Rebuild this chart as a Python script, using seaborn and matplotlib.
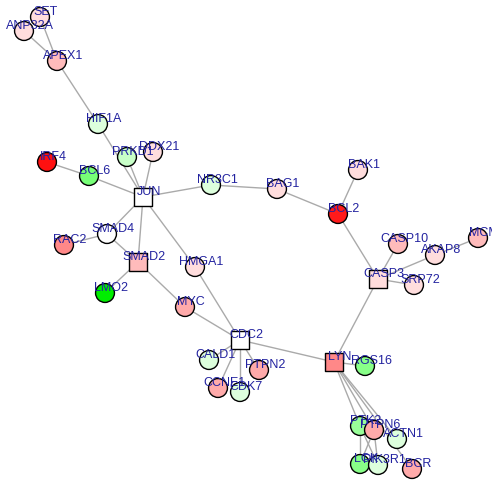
import matplotlib
matplotlib.use("Agg")
import matplotlib.pyplot as plt
import seaborn as sns
import pandas as pd

# node table (pixel layout, y grows downward)
names = ["SET", "ANP32A", "APEX1", "HIF1A", "PRKD1", "DDX21", "IRF4", "BCL6", "JUN",
         "NR3C1", "BAG1", "BCL2", "BAK1", "SMAD4", "RAC2", "SMAD2", "HMGA1", "LMO2",
         "MYC", "CDC2", "CALD1", "PTPN2", "CCNE1", "CDK7", "LYN", "RGS16", "CASP3",
         "CASP10", "AKAP8", "MCM", "SRP72", "PTK2", "PTPN6", "ACTN1", "LCK", "PIK3R1", "BCR"]
xs = [40, 24, 57, 98, 127, 153, 47, 89, 143,
      211, 277, 338, 358, 107, 64, 138, 195, 105,
      185, 240, 209, 259, 218, 240, 334, 365, 378,
      398, 435, 478, 414, 360, 374, 397, 360, 378, 412]
ys = [18, 32, 62, 125, 158, 153, 163, 177, 198,
      186, 190, 215, 171, 235, 246, 263, 268, 294,
      308, 341, 361, 371, 389, 393, 363, 367, 280,
      245, 256, 239, 286, 427, 431, 440, 465, 466, 470]
shapes = ["circle"] * 8 + ["square"] + ["circle"] * 6 + ["square"] + ["circle"] * 3 + \
         ["square"] + ["circle"] * 4 + ["square", "circle", "square"] + ["circle"] * 10
colors = ["#ffdddd", "#ffdddd", "#ffbbbb", "#ddffdd", "#c8ffc8", "#ffdddd", "#ff1010", "#77ff77", "#ffffff",
          "#ddffdd", "#ffdddd", "#ff1a1a", "#ffdddd", "#ffffff", "#ff8888", "#ffbbbb", "#ffdddd", "#00ee00",
          "#ffaaaa", "#ffffff", "#ddffdd", "#ffaaaa", "#ffaaaa", "#ddffdd", "#ff8888", "#88ff88", "#ffdddd",
          "#ffbbbb", "#ffdddd", "#ffbbbb", "#ffdddd", "#99ff99", "#ffaaaa", "#ddffdd", "#88ff88", "#ddffdd", "#ffaaaa"]

edges = [("SET", "APEX1"), ("ANP32A", "APEX1"), ("APEX1", "HIF1A"), ("HIF1A", "JUN"),
         ("PRKD1", "JUN"), ("DDX21", "JUN"), ("IRF4", "BCL6"), ("BCL6", "JUN"),
         ("JUN", "NR3C1"), ("NR3C1", "BAG1"), ("BAG1", "BCL2"), ("BAK1", "BCL2"),
         ("BCL2", "CASP3"), ("JUN", "SMAD4"), ("SMAD4", "RAC2"), ("SMAD4", "SMAD2"),
         ("JUN", "SMAD2"), ("JUN", "HMGA1"), ("HMGA1", "CDC2"), ("SMAD2", "LMO2"),
         ("SMAD2", "MYC"), ("MYC", "CDC2"), ("CDC2", "CALD1"), ("CDC2", "CCNE1"),
         ("CDC2", "CDK7"), ("CDC2", "PTPN2"), ("CDC2", "LYN"), ("LYN", "CASP3"),
         ("LYN", "RGS16"), ("LYN", "PTK2"), ("LYN", "PTPN6"), ("LYN", "BCR"),
         ("LYN", "ACTN1"), ("PTK2", "LCK"), ("PTK2", "PIK3R1"), ("PTPN6", "LCK"),
         ("PTPN6", "PIK3R1"), ("CASP3", "CASP10"), ("CASP3", "AKAP8"),
         ("AKAP8", "MCM"), ("CASP3", "SRP72")]

nodes = pd.DataFrame({"name": names, "x": xs, "y": ys, "shape": shapes})
pos = {n: (x, y) for n, x, y in zip(names, xs, ys)}

sns.set_style("white")
fig = plt.figure(figsize=(4.92, 4.81), dpi=100)
ax = fig.add_axes([0, 0, 1, 1])

for a, b in edges:
    ax.plot([pos[a][0], pos[b][0]], [pos[a][1], pos[b][1]], color="#aaaaaa", lw=1.0, zorder=1)

sns.scatterplot(data=nodes, x="x", y="y", hue="name", palette=dict(zip(names, colors)),
                style="shape", markers={"circle": "o", "square": "s"}, s=185,
                edgecolor="black", linewidth=1.0, legend=False, ax=ax, zorder=2)

for n, x, y in zip(names, xs, ys):
    ax.text(x + 6, y - 6, n, ha="center", va="center", fontsize=9,
            family="Liberation Sans", color="#2323a0", zorder=3)

ax.set_xlim(0, 492)
ax.set_ylim(481, 0)
ax.set_axis_off()
fig.savefig("out.png", dpi=100, facecolor="white")
